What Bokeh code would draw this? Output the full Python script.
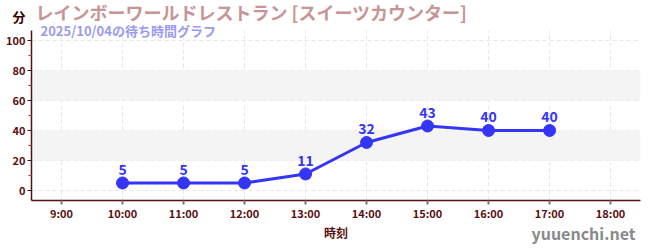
from bokeh.plotting import figure
from bokeh.models import (FixedTicker, BoxAnnotation, Label, Range1d, ColumnDataSource, LabelSet, Column)
from bokeh.core.properties import value
from bokeh.embed import file_html
from bokeh.resources import INLINE

hours = [10, 11, 12, 13, 14, 15, 16, 17]
waits = [5, 5, 5, 11, 32, 43, 40, 40]
tick_hours = [9, 10, 11, 12, 13, 14, 15, 16, 17, 18]
tick_labels = ["9:00", "10:00", "11:00", "12:00", "13:00", "14:00", "15:00", "16:00", "17:00", "18:00"]
title_text = "レインボーワールドレストラン [スイーツカウンター]"
subtitle_text = "2025/10/04の待ち時間グラフ"
y_unit = "分"
x_title = "時刻"
watermark = "yuuenchi.net"

FONT = "Noto Sans CJK JP"
MAROON = "#5a1010"
BLUE = "#3535f5"

p = figure(width=650, height=250, output_backend="svg", toolbar_location=None,
           x_range=Range1d(8.508, 18.49), y_range=Range1d(-6.7, 106.7),
           min_border_left=31, min_border_right=10, min_border_top=30, min_border_bottom=50)
p.outline_line_color = None
p.background_fill_color = "white"

for b, t in [(20, 40), (60, 80)]:
    p.add_layout(BoxAnnotation(bottom=b, top=t, fill_color="#f4f4f4", fill_alpha=1, line_color=None, level="underlay"))

p.xgrid.grid_line_color = "#e6e6e6"
p.ygrid.grid_line_color = "#e6e6e6"
p.xgrid.grid_line_dash = "4 3"
p.ygrid.grid_line_dash = "4 3"

p.xaxis.ticker = FixedTicker(ticks=tick_hours)
p.xaxis.major_label_overrides = {h: l for h, l in zip(tick_hours, tick_labels)}
p.yaxis.ticker = FixedTicker(ticks=[0, 20, 40, 60, 80, 100], minor_ticks=[10, 30, 50, 70, 90])

for ax in (p.xaxis[0], p.yaxis[0]):
    ax.axis_line_color = MAROON
    ax.axis_line_width = 1.5
    ax.major_label_text_color = MAROON
    ax.major_label_text_font = FONT
    ax.major_label_text_font_style = "bold"
    ax.major_label_text_font_size = "11px"
    ax.major_tick_in = 0
    ax.major_tick_out = 4

p.xaxis.major_tick_line_color = "#777777"
p.xaxis.major_tick_line_width = 2
p.xaxis.minor_tick_line_color = None
p.xaxis.major_label_standoff = 0
p.xaxis.axis_label = x_title
p.xaxis.axis_label_text_font = FONT
p.xaxis.axis_label_text_font_style = "bold"
p.xaxis.axis_label_text_font_size = "12px"
p.xaxis.axis_label_text_color = MAROON
p.xaxis.axis_label_standoff = 0

p.yaxis.major_tick_line_color = "#222222"
p.yaxis.minor_tick_line_color = "#dd2222"
p.yaxis.minor_tick_in = 0
p.yaxis.minor_tick_out = 3
p.yaxis.major_label_standoff = 2

src = ColumnDataSource(dict(x=hours, y=waits, t=[str(v) for v in waits]))
p.line("x", "y", source=src, line_color=BLUE, line_width=3)
p.scatter("x", "y", source=src, size=12, fill_color=BLUE, line_color=BLUE)
p.add_layout(LabelSet(x="x", y="y", text="t", source=src, y_offset=8, text_align="center",
                      text_color=BLUE, text_font=value(FONT), text_font_style="bold",
                      text_font_size="14px"))

# transparent overlay figure for the texts outside the plot frame
ov = figure(frame_width=650, frame_height=250, output_backend="svg", toolbar_location=None,
            x_range=Range1d(0, 650), y_range=Range1d(250, 0),
            x_axis_type=None, y_axis_type=None, min_border=0,
            min_border_left=0, min_border_right=0, min_border_top=0, min_border_bottom=0)
ov.outline_line_color = None
ov.background_fill_color = None
ov.border_fill_color = None
ov.xgrid.visible = False
ov.ygrid.visible = False

if "frame_align" in ov.properties():
    ov.frame_align = False
    p.frame_align = False
    left = "0px"
else:
    left = "-33px"
ov.styles = {"position": "absolute", "left": left, "top": "0px", "pointer-events": "none"}

texts = [
    (title_text, 35, 11, "18px", "#c79595", "left"),
    (subtitle_text, 40, 30, "13px", "#9a9af2", "left"),
    (y_unit, 12, 16, "13px", "#3a0000", "left"),
    (watermark, 635, 232, "16px", "#8a8a8a", "right"),
]
for txt, cx, cy, fs, col, al in texts:
    ov.add_layout(Label(x=cx, y=cy, text=txt, text_font=FONT, text_font_style="bold",
                        text_font_size=fs, text_color=col, text_baseline="middle", text_align=al))

layout = Column(children=[p, ov], styles={"position": "relative"}, spacing=0)
open("out.html", "w").write(file_html(layout, INLINE))
